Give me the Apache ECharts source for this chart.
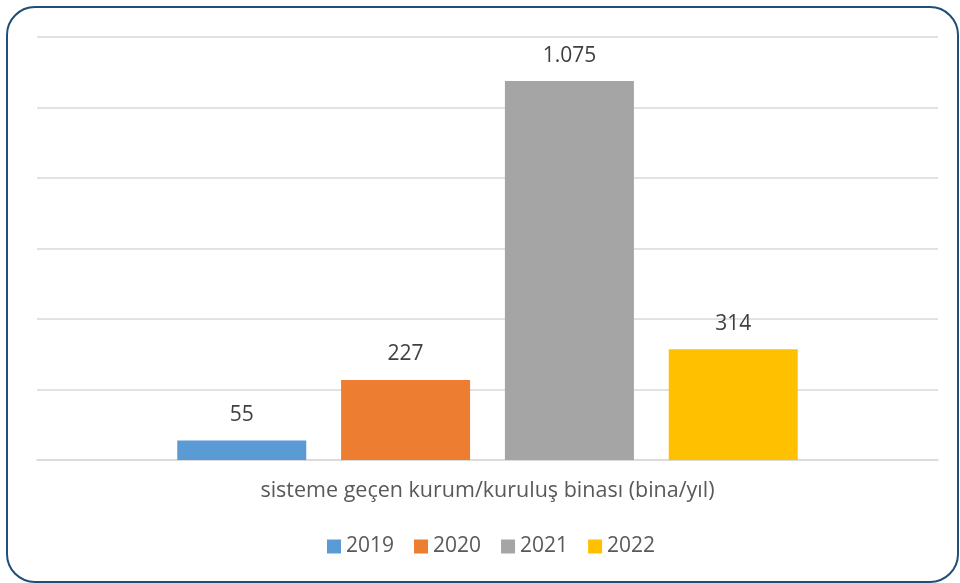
<!DOCTYPE html>
<html>
<head>
<meta charset="utf-8">
<script src="https://cdn.jsdelivr.net/npm/echarts@6/dist/echarts.min.js"></script>
<style>
  html, body { margin: 0; padding: 0; background: #fff; }
  #chart { width: 960px; height: 583px; }
</style>
</head>
<body>
<div id="chart"></div>
<script>
// veriler
const category = ['sisteme geçen kurum/kuruluş binası (bina/yıl)']
const years = ['2019', '2020', '2021', '2022']
const values = [55, 227, 1075, 314]
const colors = ['#5b9bd5', '#ed7d31', '#a5a5a5', '#ffc000']
const yTicks = [0, 200, 400, 600, 800, 1000, 1200]

const font = '"Open Sans", sans-serif'

const chart = echarts.init(document.getElementById('chart'))

// Türkçe binlik ayırıcı
const fmt = v => String(v).replace(/\B(?=(\d{3})+(?!\d))/g, '.')

const option = {
  animation: false,
  backgroundColor: '#fff',
  textStyle: { fontFamily: font },
  graphic: [
    {
      type: 'rect',
      shape: { x: 7, y: 7, width: 951, height: 575, r: 28 },
      style: { fill: 'none', stroke: '#1f4e79', lineWidth: 2 },
      silent: true
    }
  ],
  legend: {
    data: years,
    top: 531,
    left: 322,
    itemWidth: 14,
    itemHeight: 14,
    itemGap: 20,
    itemTextGap: 4,
    icon: 'rect',
    textStyle: { fontSize: 21, color: '#595959', fontFamily: font }
  },
  grid: {
    left: 37,
    right: 22,
    top: 37,
    bottom: 123
  },
  xAxis: {
    type: 'category',
    data: category,
    axisLine: { show: true, lineStyle: { color: '#d9d9d9', width: 1.5 } },
    axisTick: { show: false },
    axisLabel: { fontSize: 21.5, color: '#595959', margin: 20, fontFamily: font }
  },
  yAxis: {
    type: 'value',
    min: yTicks[0],
    max: yTicks[yTicks.length - 1],
    interval: 200,
    axisLine: { show: false },
    axisTick: { show: false },
    axisLabel: { show: false },
    splitLine: { lineStyle: { color: '#d9d9d9', width: 1.5 } }
  },
  series: years.map((y, i) => ({
    name: y,
    type: 'bar',
    data: [values[i]],
    barWidth: 129,
    barGap: '27%',
    itemStyle: { color: colors[i] },
    label: {
      show: true,
      position: 'top',
      distance: 15,
      fontSize: 21,
      color: '#404040',
      fontFamily: font,
      formatter: p => fmt(p.value)
    }
  }))
}

chart.setOption(option)
</script>
</body>
</html>
